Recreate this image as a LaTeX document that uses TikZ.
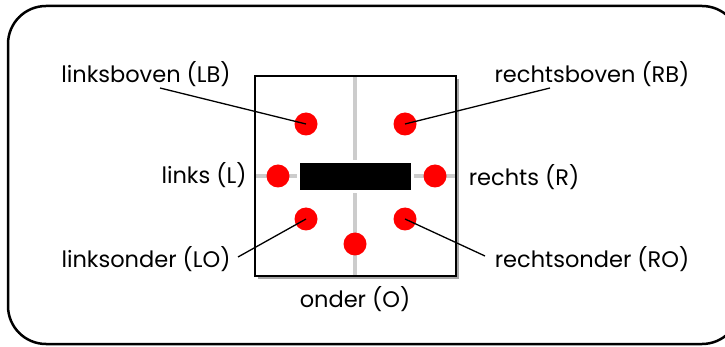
\documentclass[tikz,border=0pt]{standalone}
\usepackage{fontspec}
\setmainfont{Poppins}
\usepackage{tikz}
\usetikzlibrary{positioning}

\begin{document}
\begin{tikzpicture}[x=1pt,y=-1pt]
        \tikzstyle{spot}=[circle,fill=red,minimum size=23pt,inner sep=0pt]
        \tikzstyle{label}=[anchor=base,font=\fontsize{22.5}{26}\selectfont,inner sep=0pt]
        \tikzstyle{guide}=[black!20,line width=4pt]
        \useasboundingbox (0,0) rectangle (725,347);
        % outer frame
        \draw[line width=2.5pt,rounded corners=38pt] (8,6) rectangle (740,344);
        % board with shadow
        \fill[black!35] (258,79) rectangle (459,279);
        \fill[white] (255,76) rectangle (456,276);
        \draw[guide] (355,76) -- (355,276);
        \draw[guide] (255,176) -- (456,176);
        \node[fill=black,draw=white,line width=3pt,minimum width=114pt,minimum height=30pt,inner sep=0pt] (bar) at (355.5,176.5) {};
        \draw[line width=2pt] (255,76) rectangle (456,276);
        % spots
        \node[spot] (lb) at (306,124) {};
        \node[spot] (rb) at (405,124) {};
        \node[spot] (l) at (278,176) {};
        \node[spot] (r) at (435,176) {};
        \node[spot] (lo) at (306,219) {};
        \node[spot] (ro) at (405,219) {};
        \node[spot] (o) at (355,244) {};
        % labels
        \node[label] (txt_lb) at (146,83) {linksboven (LB)};
        \node[label] (txt_rb) at (592,83) {rechtsboven (RB)};
        \node[label] (txt_l) at (204,184) {links (L)};
        \node[label] (txt_r) at (524,186) {rechts (R)};
        \node[label] (txt_lo) at (146,267) {linksonder (LO)};
        \node[label] (txt_ro) at (592,267) {rechtsonder (RO)};
        \node[label] (txt_o) at (355,307) {onder (O)};
        \coordinate (end_lb) at (160,88);
        \coordinate (end_rb) at (550,88);
        \coordinate (end_lo) at (238,257);
        \coordinate (end_ro) at (485,256);
        \draw[line width=1.3pt] (end_lb) -- (lb.center);
        \draw[line width=1.3pt] (end_rb) -- (rb.center);
        \draw[line width=1.3pt] (end_lo) -- (lo.center);
        \draw[line width=1.3pt] (end_ro) -- (ro.center);
    \end{tikzpicture}
\end{document}
